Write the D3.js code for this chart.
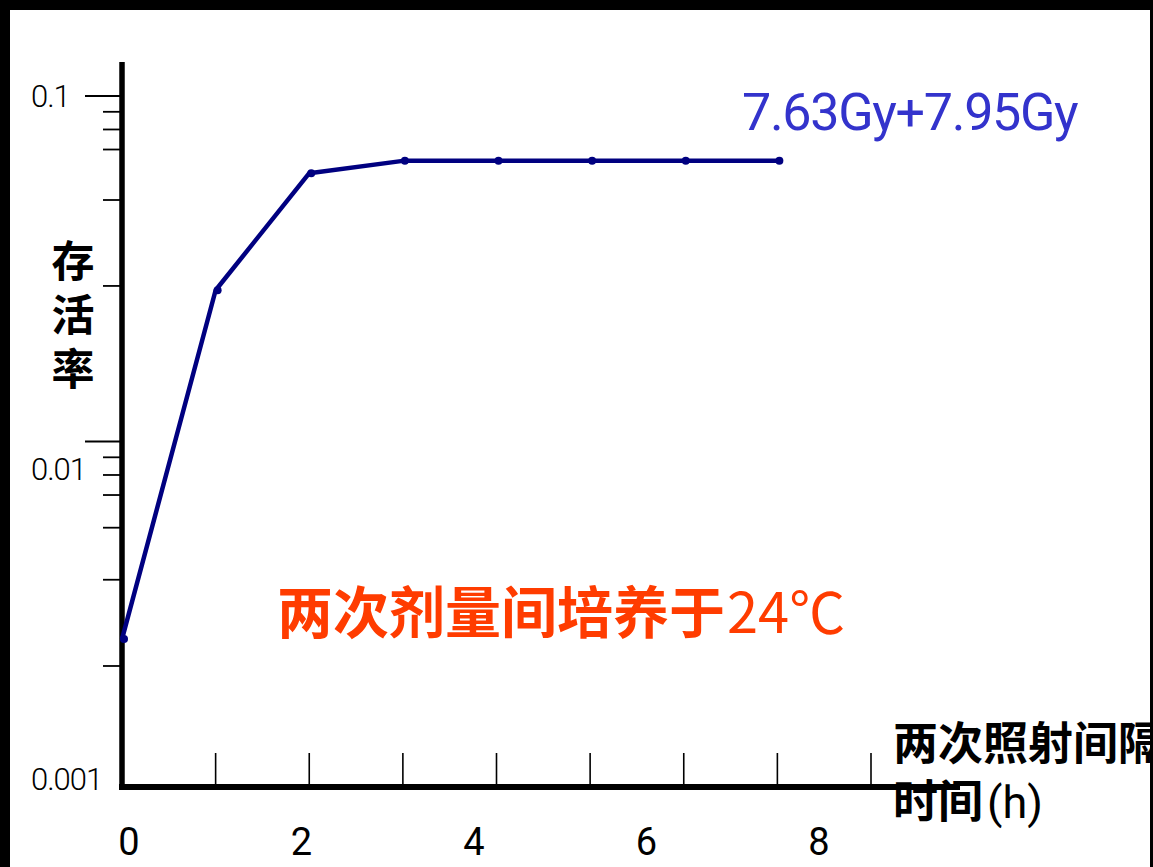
<!DOCTYPE html>
<html><head><meta charset="utf-8">
<script src="https://cdnjs.cloudflare.com/ajax/libs/d3/7.8.5/d3.min.js"></script>
<style>html,body{margin:0;padding:0;background:#fff;overflow:hidden}</style>
</head><body>
<script>
// ---- data ----
const hours = [0, 1, 2, 3, 4, 5, 6, 7];
const survival = [0.00268, 0.0274, 0.0598, 0.0649, 0.0649, 0.0649, 0.0649, 0.0649];
const xTickValues = [1, 2, 3, 4, 5, 6, 7, 8];
const xTickLabels = ["0", "2", "4", "6", "8"];
const yMajorTicks = [0.1, 0.01, 0.001];
const yMajorLabels = ["0.1", "0.01", "0.001"];
const yMinorTicks = [0.09, 0.08, 0.07, 0.05, 0.0282, 0.009, 0.008, 0.007, 0.00563, 0.00398, 0.00224];
const seriesLabel = "7.63Gy+7.95Gy";
const noteTextA = "两次剂量间培养于";
const noteTextB = "24℃";
const yTitle = ["存", "活", "率"];
const xTitle1 = "两次照射间隔";
const xTitle2a = "时间";
const xTitle2b = "(h)";

const W = 1153, H = 867;
const svg = d3.select("body").append("svg").attr("width", W).attr("height", H);

const x = d3.scaleLinear().domain([0, 8]).range([122, 871]);
const y = d3.scaleLog().domain([0.001, 0.1]).range([787, 96]);
const xLab = d3.scalePoint().domain(xTickLabels).range([129, 819]);

// x ticks (upwards)
svg.append("g").selectAll("line").data(xTickValues).join("line")
  .attr("x1", d => x(d)).attr("x2", d => x(d))
  .attr("y1", 753).attr("y2", 787)
  .attr("stroke", "#000").attr("stroke-width", 1.6);

// y minor ticks
svg.append("g").selectAll("line").data(yMinorTicks).join("line")
  .attr("x1", 103).attr("x2", 120)
  .attr("y1", d => y(d)).attr("y2", d => y(d))
  .attr("stroke", "#000").attr("stroke-width", 1.8);
// y major ticks (except axis bottom)
svg.append("g").selectAll("line").data(yMajorTicks.slice(0, 2)).join("line")
  .attr("x1", 85).attr("x2", 120)
  .attr("y1", d => y(d)).attr("y2", d => y(d))
  .attr("stroke", "#000").attr("stroke-width", 1.8);

// axes
svg.append("line").attr("x1", 122).attr("x2", 122).attr("y1", 62).attr("y2", 790)
  .attr("stroke", "#000").attr("stroke-width", 5.5);
svg.append("line").attr("x1", 119).attr("x2", 960).attr("y1", 787).attr("y2", 787)
  .attr("stroke", "#000").attr("stroke-width", 6);

// y tick labels
const yLabelOffsets = [11, 11 + 27, 11 - 8];
svg.append("g").selectAll("text").data(yMajorTicks).join("text")
  .attr("x", 31).attr("y", (d, i) => y(d) + yLabelOffsets[i])
  .attr("font-family", "Roboto, sans-serif").attr("font-weight", 300)
  .attr("font-size", 31).attr("fill", "#000")
  .attr("letter-spacing", -1)
  .text((d, i) => yMajorLabels[i]);

// x tick labels
svg.append("g").selectAll("text").data(xTickLabels).join("text")
  .attr("x", d => xLab(d)).attr("y", 855)
  .attr("text-anchor", "middle")
  .attr("font-family", "Roboto, sans-serif").attr("font-size", 38).attr("fill", "#000")
  .text(d => d);

// line + points
const line = d3.line().x((d, i) => x(hours[i])).y(d => y(d));
svg.append("path").datum(survival).attr("d", line)
  .attr("fill", "none").attr("stroke", "#000080").attr("stroke-width", 4.5)
  .attr("stroke-linejoin", "round");
svg.append("g").selectAll("circle").data(survival).join("circle")
  .attr("cx", (d, i) => x(hours[i]) + 2).attr("cy", d => y(d)).attr("r", 4)
  .attr("fill", "#000080");

// series label
svg.append("text").attr("x", 742).attr("y", 130)
  .attr("font-family", "Roboto, sans-serif").attr("font-size", 52).attr("fill", "#3333cc")
  .attr("letter-spacing", -1.3)
  .text(seriesLabel);

// note
const note = svg.append("text").attr("x", 277).attr("y", 633)
  .attr("font-family", "'Noto Sans CJK SC', sans-serif")
  .attr("font-size", 56).attr("fill", "#ff3c00");
note.append("tspan").attr("font-weight", 700).text(noteTextA);
note.append("tspan").attr("font-weight", 400).attr("dx", 2).text(noteTextB);

// y title (single text element, stacked characters)
const yt = svg.append("text")
  .attr("text-anchor", "middle")
  .attr("font-family", "'Noto Sans CJK SC', sans-serif").attr("font-weight", 700)
  .attr("font-size", 43).attr("fill", "#000");
yt.selectAll("tspan").data(yTitle).join("tspan")
  .attr("x", 73).attr("y", (d, i) => 277 + i * 54)
  .text(d => d);

// x title
svg.append("text").attr("x", 893).attr("y", 760)
  .attr("font-family", "'Noto Sans CJK SC', sans-serif").attr("font-weight", 700)
  .attr("font-size", 45).attr("fill", "#000").text(xTitle1);
const t2 = svg.append("text").attr("x", 893).attr("y", 818)
  .attr("font-family", "'Noto Sans CJK SC', sans-serif")
  .attr("font-size", 45).attr("fill", "#000");
t2.append("tspan").attr("font-weight", 700).text(xTitle2a);
t2.append("tspan").attr("font-weight", 400).attr("font-family", "Roboto, sans-serif").attr("dx", 4).text(xTitle2b);

// frame bands
svg.append("rect").attr("x", 0).attr("y", 0).attr("width", W).attr("height", 10).attr("fill", "#000");
svg.append("rect").attr("x", 0).attr("y", 0).attr("width", 10).attr("height", H).attr("fill", "#000");
svg.append("rect").attr("x", 1150).attr("y", 0).attr("width", 3).attr("height", H).attr("fill", "#000");
</script>
</body></html>
